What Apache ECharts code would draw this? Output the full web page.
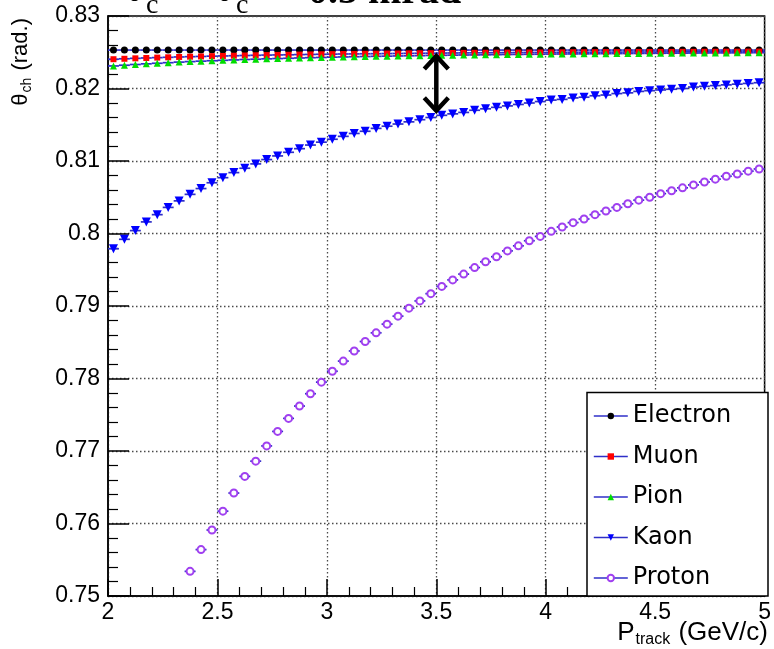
<!DOCTYPE html>
<html>
<head>
<meta charset="utf-8">
<title>Cherenkov angle vs track momentum</title>
<script src="https://cdn.jsdelivr.net/npm/echarts@6/dist/echarts.min.js"></script>
<style>
  html, body { margin: 0; padding: 0; background: #ffffff; }
  #chart { width: 774px; height: 649px; }
</style>
</head>
<body>
<div id="chart"></div>
<script>
// Track momentum bin centres (GeV/c)
const momentum = [
  2.025, 2.075, 2.125, 2.175, 2.225, 2.275, 2.325, 2.375, 2.425, 2.475,
  2.525, 2.575, 2.625, 2.675, 2.725, 2.775, 2.825, 2.875, 2.925, 2.975,
  3.025, 3.075, 3.125, 3.175, 3.225, 3.275, 3.325, 3.375, 3.425, 3.475,
  3.525, 3.575, 3.625, 3.675, 3.725, 3.775, 3.825, 3.875, 3.925, 3.975,
  4.025, 4.075, 4.125, 4.175, 4.225, 4.275, 4.325, 4.375, 4.425, 4.475,
  4.525, 4.575, 4.625, 4.675, 4.725, 4.775, 4.825, 4.875, 4.925, 4.975
];
// Proton points start where the angle enters the plotted range
const protonMomentum = [
  2.375, 2.425, 2.475, 2.525, 2.575, 2.625, 2.675, 2.725, 2.775, 2.825,
  2.875, 2.925, 2.975, 3.025, 3.075, 3.125, 3.175, 3.225, 3.275, 3.325,
  3.375, 3.425, 3.475, 3.525, 3.575, 3.625, 3.675, 3.725, 3.775, 3.825,
  3.875, 3.925, 3.975, 4.025, 4.075, 4.125, 4.175, 4.225, 4.275, 4.325,
  4.375, 4.425, 4.475, 4.525, 4.575, 4.625, 4.675, 4.725, 4.775, 4.825,
  4.875, 4.925, 4.975
];
// Half width of each momentum bin (horizontal error bar)
const momentumHalfWidth = 0.025;

// Cherenkov angle theta_ch (rad.) per particle
const electronAngle = [
  0.8253, 0.8253, 0.8253, 0.8253, 0.8253, 0.8253, 0.8253, 0.8253, 0.8253, 0.8253,
  0.8253, 0.8253, 0.8253, 0.8253, 0.8253, 0.8253, 0.8253, 0.8253, 0.8253, 0.8253,
  0.8253, 0.8253, 0.8253, 0.8253, 0.8253, 0.8253, 0.8253, 0.8253, 0.8253, 0.8253,
  0.8253, 0.8253, 0.8253, 0.8253, 0.8253, 0.8253, 0.8253, 0.8253, 0.8253, 0.8253,
  0.8253, 0.8253, 0.8253, 0.8253, 0.8253, 0.8253, 0.8253, 0.8253, 0.8253, 0.8253,
  0.8253, 0.8253, 0.8253, 0.8253, 0.8253, 0.8253, 0.8253, 0.8253, 0.8253, 0.8253
];
const muonAngle = [
  0.82404, 0.82410, 0.82416, 0.82421, 0.82426, 0.82430, 0.82435, 0.82439, 0.82442, 0.82446,
  0.82449, 0.82452, 0.82455, 0.82458, 0.82461, 0.82463, 0.82465, 0.82468, 0.82470, 0.82472,
  0.82474, 0.82476, 0.82477, 0.82479, 0.82480, 0.82482, 0.82483, 0.82485, 0.82486, 0.82487,
  0.82489, 0.82490, 0.82491, 0.82492, 0.82493, 0.82494, 0.82495, 0.82496, 0.82497, 0.82497,
  0.82498, 0.82499, 0.82500, 0.82500, 0.82501, 0.82502, 0.82502, 0.82503, 0.82504, 0.82504,
  0.82505, 0.82505, 0.82506, 0.82506, 0.82507, 0.82507, 0.82508, 0.82508, 0.82509, 0.82509
];
const pionAngle = [
  0.82311, 0.82321, 0.82331, 0.82340, 0.82348, 0.82356, 0.82364, 0.82371, 0.82377, 0.82383,
  0.82389, 0.82394, 0.82400, 0.82404, 0.82409, 0.82413, 0.82417, 0.82421, 0.82425, 0.82428,
  0.82432, 0.82435, 0.82438, 0.82441, 0.82444, 0.82446, 0.82449, 0.82451, 0.82453, 0.82456,
  0.82458, 0.82460, 0.82462, 0.82463, 0.82465, 0.82467, 0.82469, 0.82470, 0.82472, 0.82473,
  0.82475, 0.82476, 0.82477, 0.82478, 0.82480, 0.82481, 0.82482, 0.82483, 0.82484, 0.82485,
  0.82486, 0.82487, 0.82488, 0.82489, 0.82490, 0.82491, 0.82491, 0.82492, 0.82493, 0.82494
];
const kaonAngle = [
  0.7979, 0.7992, 0.8004, 0.8016, 0.8026, 0.8036, 0.8045, 0.8054, 0.8062, 0.8070,
  0.8077, 0.8084, 0.8090, 0.8096, 0.8102, 0.8107, 0.8112, 0.8117, 0.8122, 0.8126,
  0.8130, 0.8134, 0.8138, 0.8141, 0.8145, 0.8148, 0.8151, 0.8154, 0.8157, 0.8160,
  0.8163, 0.8165, 0.8167, 0.8170, 0.8172, 0.8174, 0.8176, 0.8178, 0.8180, 0.8182,
  0.8184, 0.8185, 0.8187, 0.8188, 0.8190, 0.8191, 0.8193, 0.8194, 0.8196, 0.8197,
  0.8198, 0.8199, 0.8200, 0.8202, 0.8203, 0.8204, 0.8205, 0.8206, 0.8207, 0.8208
];
const protonAngle = [
  0.7534, 0.7564, 0.7591, 0.7617, 0.7642, 0.7665, 0.7686, 0.7707, 0.7727, 0.7745,
  0.7762, 0.7779, 0.7795, 0.7810, 0.7824, 0.7838, 0.7851, 0.7863, 0.7875, 0.7886,
  0.7897, 0.7907, 0.7917, 0.7927, 0.7936, 0.7944, 0.7953, 0.7961, 0.7968, 0.7976,
  0.7983, 0.7990, 0.7996, 0.8003, 0.8009, 0.8015, 0.8020, 0.8026, 0.8031, 0.8036,
  0.8041, 0.8046, 0.8050, 0.8055, 0.8059, 0.8063, 0.8067, 0.8071, 0.8075, 0.8079,
  0.8082, 0.8086, 0.8089
];

// Separation marker at p = 3.5 GeV/c between electron and kaon angles
const separationMomentum = 3.5;
const separationAngles = [0.8253, 0.8161];

// Axis ranges and tick steps
const momentumRange = [2, 5];
const momentumStep = 0.5;
const angleRange = [0.75, 0.83];
const angleStep = 0.01;

const particleNames = ['Electron', 'Muon', 'Pion', 'Kaon', 'Proton'];

const particleStyles = {
  Electron: { symbol: 'circle', size: 7, rotate: 0, color: '#000000' },
  Muon:     { symbol: 'rect', size: 6, rotate: 0, color: '#ff0000' },
  Pion:     { symbol: 'triangle', size: 7, rotate: 0, color: '#00dd00' },
  Kaon:     { symbol: 'triangle', size: 9, rotate: 180, color: '#0000ff' },
  Proton:   { symbol: 'emptyCircle', size: 7, rotate: 0, color: '#a040f0' }
};

const particleData = {
  Electron: [momentum, electronAngle],
  Muon: [momentum, muonAngle],
  Pion: [momentum, pionAngle],
  Kaon: [momentum, kaonAngle],
  Proton: [protonMomentum, protonAngle]
};

const BAR_COLOR = '#2f2fc8';
const TICK_FONT = 'Liberation Sans';

// Horizontal bin-width bar through each point
function renderBinBar(params, api) {
  const p = api.value(0);
  const theta = api.value(1);
  const a = api.coord([p - momentumHalfWidth, theta]);
  const b = api.coord([p + momentumHalfWidth, theta]);
  return {
    type: 'line',
    shape: { x1: a[0], y1: a[1], x2: b[0], y2: b[1] },
    style: { stroke: BAR_COLOR, lineWidth: 1.7 }
  };
}

// Double-headed arrow between two angles at a fixed momentum
function renderArrow(params, api) {
  const p = api.value(0);
  const top = api.coord([p, api.value(1)]);
  const bot = api.coord([p, api.value(2)]);
  const gap = 6, w = 12, h = 13, lw = 4.5;
  const yt = top[1] + gap, yb = bot[1] - gap;
  const x = top[0];
  const st = { stroke: '#000000', lineWidth: lw, fill: null, lineJoin: 'miter' };
  return {
    type: 'group',
    children: [
      { type: 'line', shape: { x1: x, y1: yt + 2, x2: x, y2: yb - 2 }, style: st },
      { type: 'polyline', shape: { points: [[x - w, yt + h], [x, yt], [x + w, yt + h]] }, style: st },
      { type: 'polyline', shape: { points: [[x - w, yb - h], [x, yb], [x + w, yb - h]] }, style: st }
    ]
  };
}

const series = [];
particleNames.forEach(function (name) {
  const xs = particleData[name][0];
  const ys = particleData[name][1];
  const pts = xs.map(function (v, i) { return [v, ys[i]]; });
  const st = particleStyles[name];
  series.push({
    type: 'custom',
    name: name + ' bins',
    renderItem: renderBinBar,
    data: pts,
    clip: true,
    silent: true,
    animation: false,
    z: 2
  });
  series.push({
    type: 'line',
    name: name,
    data: pts,
    symbol: st.symbol,
    symbolSize: st.size,
    symbolRotate: st.rotate,
    showSymbol: true,
    showAllSymbol: true,
    lineStyle: { width: 0, opacity: 0 },
    itemStyle: { color: st.color, borderColor: st.color, borderWidth: st.symbol === 'emptyCircle' ? 2.2 : 0 },
    emphasis: { disabled: true },
    silent: true,
    animation: false,
    z: 3
  });
});

series.push({
  type: 'custom',
  name: 'separation',
  renderItem: renderArrow,
  data: [[separationMomentum, separationAngles[0], separationAngles[1]]],
  silent: true,
  animation: false,
  z: 5
});

const serif = 'Liberation Serif';

const option = {
  backgroundColor: '#ffffff',
  animation: false,
  grid: {
    left: 108, right: 6, top: 16, bottom: 53,
    show: true, borderColor: '#000000', borderWidth: 1.5, backgroundColor: 'transparent'
  },
  xAxis: {
    type: 'value',
    min: momentumRange[0], max: momentumRange[1], interval: momentumStep,
    axisLine: { show: true, onZero: false, lineStyle: { color: '#000', width: 1.5 } },
    axisTick: { show: true, inside: true, length: 17, lineStyle: { color: '#000', width: 1.5 } },
    minorTick: { show: true, splitNumber: 5, length: 9, lineStyle: { color: '#000', width: 1.2 } },
    splitLine: { show: true, lineStyle: { color: '#4a4a4a', width: 1.3, type: [1.5, 2.5] } },
    axisLabel: { fontFamily: TICK_FONT, fontSize: 23, color: '#000', margin: 5 }
  },
  yAxis: {
    type: 'value',
    min: angleRange[0], max: angleRange[1], interval: angleStep,
    axisLine: { show: true, onZero: false, lineStyle: { color: '#000', width: 1.5 } },
    axisTick: { show: true, inside: true, length: 21, lineStyle: { color: '#000', width: 1.5 } },
    minorTick: { show: true, splitNumber: 5, length: 10, lineStyle: { color: '#000', width: 1.2 } },
    splitLine: { show: true, lineStyle: { color: '#4a4a4a', width: 1.3, type: [1.5, 2.5] } },
    axisLabel: { fontFamily: TICK_FONT, fontSize: 23, color: '#000', margin: 8 }
  },
  legend: {
    data: particleNames,
    orient: 'vertical',
    left: 593, top: 401,
    padding: 0,
    itemWidth: 34, itemHeight: 8, itemGap: 10.5,
    selectedMode: false,
    textStyle: { fontFamily: 'DejaVu Sans', fontSize: 24, color: '#000', lineHeight: 30 },
    lineStyle: { color: BAR_COLOR, width: 1.6, opacity: 1, type: 'solid' },
    z: 20
  },
  graphic: [
    // legend frame
    {
      type: 'rect', z: 10,
      shape: { x: 587, y: 392.5, width: 181, height: 203.5 },
      style: { fill: '#ffffff', stroke: '#000000', lineWidth: 1.5 }
    },
    // heading (upper part lies above the page edge)
    { type: 'text', z: 10, x: 126, y: -8, style: { text: 'θ', font: '36px ' + serif, fill: '#000', align: 'left', verticalAlign: 'middle' } },
    { type: 'text', z: 10, x: 146, y: 5.5, style: { text: 'c', font: '28px ' + serif, fill: '#000', align: 'left', verticalAlign: 'middle' } },
    { type: 'text', z: 10, x: 216, y: -8, style: { text: 'θ', font: '36px ' + serif, fill: '#000', align: 'left', verticalAlign: 'middle' } },
    { type: 'text', z: 10, x: 236, y: 5.5, style: { text: 'c', font: '28px ' + serif, fill: '#000', align: 'left', verticalAlign: 'middle' } },
    { type: 'text', z: 10, x: 308, y: -7, style: { text: '0.5 mrad', font: 'bold 40px ' + serif, fill: '#000', align: 'left', verticalAlign: 'middle' } },
    // x-axis title
    {
      type: 'text', z: 10, x: 768, y: 634,
      style: {
        text: '{a|P}{s|track}{a| (GeV/c)}',
        align: 'right', verticalAlign: 'middle',
        rich: {
          a: { fontFamily: TICK_FONT, fontSize: 26, lineHeight: 28, verticalAlign: 'top', fill: '#000', color: '#000' },
          s: { fontFamily: TICK_FONT, fontSize: 16, lineHeight: 16, verticalAlign: 'bottom', fill: '#000', color: '#000', padding: [0, 1, 0, 1] }
        }
      }
    },
    // y-axis title
    {
      type: 'text', z: 10, x: 22, y: 18, rotation: Math.PI / 2,
      style: {
        text: '{a|θ}{s|ch}{a| (rad.)}',
        align: 'right', verticalAlign: 'middle',
        rich: {
          a: { fontFamily: TICK_FONT, fontSize: 22, lineHeight: 25, verticalAlign: 'top', fill: '#000', color: '#000' },
          s: { fontFamily: TICK_FONT, fontSize: 14, lineHeight: 14, verticalAlign: 'bottom', fill: '#000', color: '#000', padding: [0, 1, 0, 1] }
        }
      }
    }
  ],
  series: series
};

const chart = echarts.init(document.getElementById('chart'), null, { renderer: 'canvas' });
chart.setOption(option);
</script>
</body>
</html>
